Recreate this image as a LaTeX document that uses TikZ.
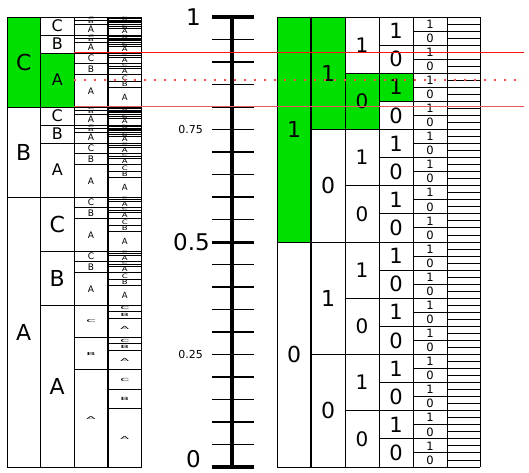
\documentclass[tikz,border=0pt]{standalone}
\usepackage{fontspec}
\setmainfont{DejaVu Sans}
\usepackage{graphicx}
\usetikzlibrary{positioning}
\definecolor{pick}{HTML}{00E000}
\definecolor{cuthi}{HTML}{FF1010}
\definecolor{cutlo}{HTML}{E85A5A}

\begin{document}
\begin{tikzpicture}[x=1pt,y=450pt,
    cell/.style={draw,line width=0.9pt},
    lab/.style={inner sep=0pt},
    tick/.style={line width=1.2pt},
    cut/.style={line width=1pt},
]
\fill[white] (0pt,-5pt) rectangle (529pt,467pt);
\useasboundingbox (0pt,-5pt) rectangle (529pt,467pt);

% chosen intervals (green)
\fill[pick] (7,0.8) rectangle (40.5,1);
\fill[pick] (40.5,0.8) rectangle (74,0.92);
\fill[pick] (277,0.5) rectangle (311,1);
\fill[pick] (311,0.75) rectangle (345,1);
\fill[pick] (345,0.75) rectangle (379,0.875);
\fill[pick] (379,0.8125) rectangle (413,0.875);

% symbol intervals, A=0.6, B=0.2, C=0.2
\foreach \sa/\oa/\pa in {A/0/0.6,B/0.6/0.2,C/0.8/0.2}{
  \draw[cell] (7,\oa) rectangle (40.5,\oa+\pa);
  \node[lab,font=\fontsize{22}{22}\selectfont] (s-\sa) at (23.75,\oa+\pa/2) {\sa};
  \foreach \sb/\ob/\pb in {A/0/0.6,B/0.6/0.2,C/0.8/0.2}{
    \pgfmathsetmacro\lob{\oa+\ob*\pa}
    \pgfmathsetmacro\wb{\pb*\pa}
    \pgfmathsetmacro\fb{\pa>0.5 ? 22 : 16}
    \pgfmathsetmacro\sq{and(\lob<0.001,\wb>0.3) ? 1 : 0}
    \draw[cell] (40.5,\lob) rectangle (74,\lob+\wb);
    \node[lab,font=\fontsize{\fb}{\fb}\selectfont] (s-\sa\sb) at (57.25,\lob+\wb/2) {\sb};
    \foreach \sc/\oc/\pc in {A/0/0.6,B/0.6/0.2,C/0.8/0.2}{
      \pgfmathsetmacro\loc{\lob+\oc*\wb}
      \pgfmathsetmacro\wc{\pc*\wb}
      \pgfmathsetmacro\sxc{\sq>0.5 ? 1.5 : 1}
      \pgfmathsetmacro\syc{min(\sq>0.5 ? 0.45 : 1,\wc*45)}
      \draw[cell] (74,\loc) rectangle (108,\loc+\wc);
      \node[lab,font=\fontsize{9}{9}\selectfont] (s-\sa\sb\sc) at (91,\loc+\wc/2) {\scalebox{\sxc}[\syc]{\sc}};
      \foreach \sd/\od/\pd in {A/0/0.6,B/0.6/0.2,C/0.8/0.2}{
        \pgfmathsetmacro\lod{\loc+\od*\wc}
        \pgfmathsetmacro\wq{\pd*\wc}
        \pgfmathsetmacro\syd{min(\sq>0.5 ? 0.5 : 1,\wq*50)}
        \draw[cell] (108,\lod) rectangle (141.5,\lod+\wq);
        \node[lab,font=\fontsize{8.5}{8.5}\selectfont] (s-\sa\sb\sc\sd) at (124.75,\lod+\wq/2) {\scalebox{\sxc}[\syd]{\sd}};
      }
    }
  }
}
\draw[line width=1.8pt] (108,0) -- (108,1);

% scale
\foreach \i in {1,...,19}{
  \draw[tick] (212,\i/20) -- (254,\i/20);
}
\draw[line width=3pt] (212,0.5) -- (254,0.5);
\draw[line width=4pt] (232,0) -- (232,1);
\draw[line width=4pt] (212,0) -- (254,0);
\draw[line width=4pt] (212,1) -- (254,1);
\node[lab,anchor=east,font=\fontsize{23}{23}\selectfont] (v1) at (201,1) {1};
\node[lab,anchor=east,font=\fontsize{23}{23}\selectfont] (v05) at (210,0.5) {0.5};
\node[lab,anchor=east,font=\fontsize{23}{23}\selectfont] (v0) at (201,0.017) {0};
\node[lab,anchor=east,font=\fontsize{11}{11}\selectfont] (v075) at (203,0.75) {0.75};
\node[lab,anchor=east,font=\fontsize{11}{11}\selectfont] (v025) at (203,0.25) {0.25};

% binary intervals
\foreach \lev/\xl/\fs in {1/277/22,2/311/22,3/345/20,4/379/21,5/413/11.5}{
  \pgfmathtruncatemacro\n{2^\lev-1}
  \pgfmathsetmacro\h{1/2^\lev}
  \foreach \i in {0,...,\n}{
    \pgfmathtruncatemacro\bit{mod(\i,2)}
    \draw[cell] (\xl,\i*\h) rectangle (\xl+34,\i*\h+\h);
    \node[lab,font=\fontsize{\fs}{\fs}\selectfont] (b-\lev-\i) at (\xl+17,{(\i+0.5)*\h}) {\bit};
  }
}
\foreach \i in {0,...,64}{
  \draw[cell] (447,\i/64) -- (480,\i/64);
}
\draw[cell] (480,0) -- (480,1);
\draw[line width=1.8pt] (311,0) -- (311,1);

% final interval
\coordinate (lo-a) at (74,0.8);
\coordinate (lo-b) at (524,0.8);
\coordinate (hi-a) at (74,0.92);
\coordinate (hi-b) at (524,0.92);
\coordinate (mid-a) at (74,0.86);
\coordinate (mid-b) at (524,0.86);
\draw[cut,cuthi] (hi-a) -- (hi-b);
\draw[cut,cutlo] (lo-a) -- (lo-b);
\draw[cut,red!70,line width=1.3pt,dash pattern=on 2pt off 8pt] (mid-a) -- (mid-b);
\end{tikzpicture}
\end{document}
